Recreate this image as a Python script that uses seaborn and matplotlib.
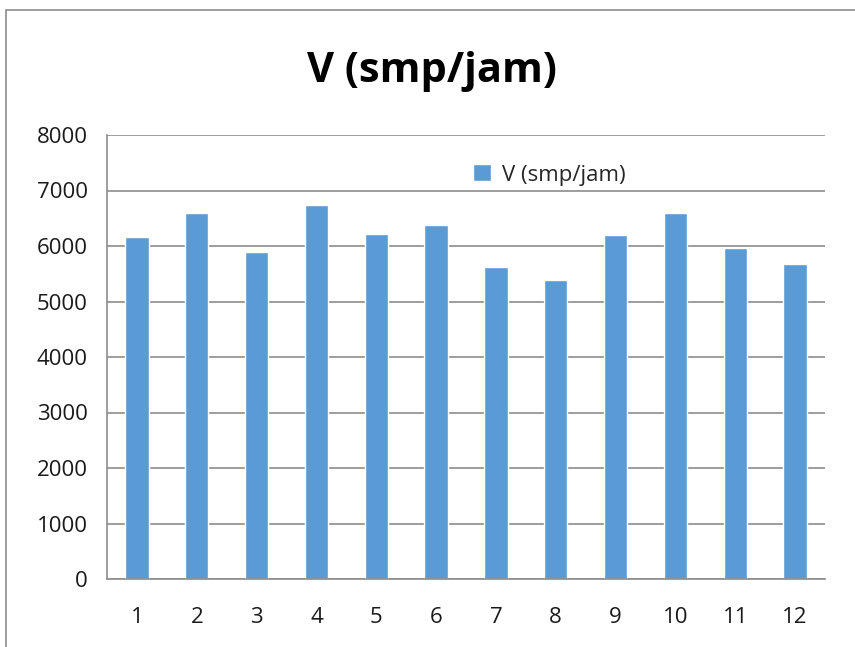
import matplotlib
matplotlib.use('Agg')
import matplotlib.pyplot as plt
import seaborn as sns
import pandas as pd
from matplotlib.patches import Rectangle, Patch

# Data
periods = ['1', '2', '3', '4', '5', '6', '7', '8', '9', '10', '11', '12']
volume = [6170, 6590, 5885, 6740, 6225, 6375, 5625, 5395, 6195, 6590, 5960, 5675]
series_name = 'V (smp/jam)'
y_ticks = [0, 1000, 2000, 3000, 4000, 5000, 6000, 7000, 8000]

sns.set_style('white')
plt.rcParams['font.family'] = ['Open Sans', 'DejaVu Sans']

bar_color = '#5B9BD5'
grid_color = '#8C8C8C'

df = pd.DataFrame({'period': periods, 'volume': volume})

fig = plt.figure(figsize=(8.55, 6.47), dpi=100)
ax = fig.add_axes([107/855, 1 - 579/647, (825 - 107)/855, (579 - 135)/647])

sns.barplot(data=df, x='period', y='volume', order=periods, color=bar_color,
            saturation=1, width=0.39, ax=ax)

ax.set_ylim(0, 8000)
ax.set_xlim(-0.5, len(periods) - 0.5)
ax.set_yticks(y_ticks)
ax.set_yticklabels([str(t) for t in y_ticks], fontsize=16, color='#1a1a1a')
ax.set_xticklabels(periods, fontsize=16, color='#1a1a1a')
ax.set_xlabel('')
ax.set_ylabel('')

# horizontal gridlines
ax.yaxis.grid(True, color=grid_color, linewidth=1.2)
ax.xaxis.grid(False)
ax.set_axisbelow(True)

for s in ['top', 'right']:
    ax.spines[s].set_visible(False)
for s in ['left', 'bottom']:
    ax.spines[s].set_color(grid_color)
    ax.spines[s].set_linewidth(1.2)

# tick marks at category boundaries
ax.set_xticks([i - 0.5 for i in range(len(periods) + 1)], minor=True)
ax.tick_params(axis='x', which='major', length=0, pad=20)
ax.tick_params(axis='x', which='minor', length=8, color=grid_color, width=1.2, direction='out')
ax.tick_params(axis='y', which='major', length=6, color=grid_color, width=1.2, direction='out', pad=8)

ax.legend(handles=[Patch(facecolor=bar_color, label=series_name)],
          loc='center left', bbox_to_anchor=(0.51, 0.91), frameon=False,
          borderaxespad=0, borderpad=0,
          fontsize=16, handlelength=0.8, handleheight=0.8, handletextpad=0.5)

fig.text(0.505, 1 - 72/647, series_name, ha='center', va='center',
         fontsize=30, fontweight='bold', color='black')

# outer chart border
fig.patches.append(Rectangle((6/855, -0.1), 1.1, 1 - 10/647 + 0.1, transform=fig.transFigure,
                             fill=False, edgecolor='#8c8c8c', linewidth=1.2))

fig.savefig('out.png', dpi=100)
